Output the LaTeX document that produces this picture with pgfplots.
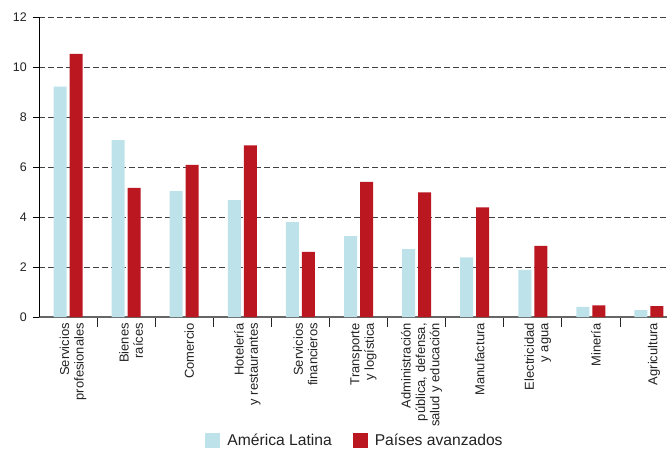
\documentclass[border=0pt]{standalone}
\usepackage{fontspec}
\setmainfont{Liberation Sans}
\usepackage{pgfplots}
\pgfplotsset{compat=1.18}

\definecolor{latam}{HTML}{BEE2E9}
\definecolor{avanz}{HTML}{BA1720}
\definecolor{txt}{HTML}{222222}

\begin{document}
\begin{tikzpicture}
\begin{axis}[
    scale only axis,
    width=628bp, height=300bp,
    ybar=3bp,
    bar width=13bp,
    xmin=-0.5, xmax=10.31,
    ymin=0, ymax=12,
    axis x line*=bottom, axis y line*=left,
    axis line style={-},
    x axis line style={draw=gray!80!black, line width=1.1bp},
    y axis line style={draw=black, line width=0.9bp},
    xtick={0,...,10},
    xticklabels={{Servicios\\profesionales},{Bienes\\raíces},{Comercio},{Hotelería\\y restaurantes},{Servicios\\financieros},{Transporte\\y logística},{Administración\\pública, defensa,\\salud y educación},{Manufactura},{Electricidad\\y agua},{Minería},{Agricultura}},
    x tick style={draw=none},
    minor xtick={0.5,1.5,...,9.5},
    minor x tick style={draw=black!85, line width=0.9bp},
    minor tick length=10bp,
    ytick={0,2,...,12},
    y tick style={draw=black, line width=0.8bp},
    major tick length=6bp,
    tick align=outside,
    ymajorgrids,
    major grid style={draw=black!75, line width=0.9bp, dash pattern=on 6bp off 3bp},
    /pgf/number format/assume math mode=true,
    yticklabel style={font=\fontsize{12.5}{14}\selectfont, text=txt, inner sep=0pt, xshift=-6bp},
    xticklabel style={rotate=90, anchor=east, align=right, inner sep=0pt, yshift=-5bp,
        font=\fontsize{13}{14.5}\selectfont, text=txt},
    legend style={at={(0.5,0)}, anchor=center, yshift=-123bp, xshift=1bp, draw=none,
        legend columns=-1, font=\fontsize{15.7}{18}\selectfont, text=txt,
        nodes={inner sep=0pt},
        /tikz/every odd column/.append style={column sep=7bp},
        /tikz/every even column/.append style={column sep=21bp}},
    legend image code/.code={\fill[#1] (0bp,-7.5bp) rectangle (15bp,7.5bp);},
]
\addplot[fill=latam, draw=none] coordinates {(0,9.21) (1,7.08) (2,5.04) (3,4.68) (4,3.80) (5,3.24) (6,2.72) (7,2.39) (8,1.89) (9,0.41) (10,0.28)};
\addplot[fill=avanz, draw=none] coordinates {(0,10.52) (1,5.17) (2,6.09) (3,6.87) (4,2.61) (5,5.41) (6,4.99) (7,4.39) (8,2.85) (9,0.47) (10,0.44)};
\legend{América Latina, Países avanzados}
\end{axis}
\pgfresetboundingbox
\path[use as bounding box] ([xshift=-39bp,yshift=-136bp]current axis.south west) rectangle ([yshift=17bp]current axis.north east);
\end{tikzpicture}
\end{document}
